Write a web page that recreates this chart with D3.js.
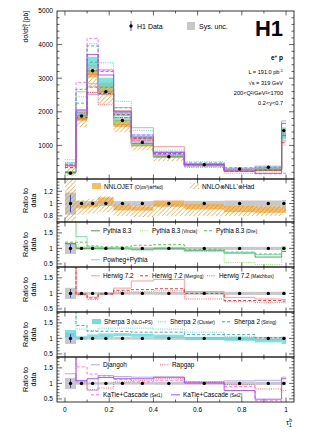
<!DOCTYPE html>
<html>
<head>
<meta charset="utf-8">
<script src="https://cdn.jsdelivr.net/npm/d3@7"></script>
<style>
  body { margin: 0; background: #fff; }
  text { font-family: "Liberation Sans", Arial, sans-serif; }
</style>
</head>
<body>
<div id="container"></div>
<script>
// bins in tau_1^b
const binEdges = [0, 0.05, 0.1, 0.15, 0.22, 0.3, 0.4, 0.54, 0.72, 0.86, 0.98, 1.0];

// H1 data [pb] and relative uncertainties
const h1Data  = [170, 1880, 3220, 2600, 1740, 1090, 664, 426, 298, 348, 1440];
const statRel = [0.14, 0.015, 0.01, 0.01, 0.01, 0.012, 0.015, 0.015, 0.02, 0.02, 0.02];
const sysRel  = [0.18, 0.045, 0.04, 0.04, 0.04, 0.04, 0.045, 0.045, 0.05, 0.05, 0.06];

// fixed order / resummed (ratio to data)
const nnlojetMid  = [null, 0.95, 0.97, 1.05, 0.93, 0.92, 1.0, 0.95, 0.91, 0.9, 0.9];
const nnlojetErr  = [null, 0.03, 0.03, 0.05, 0.04, 0.035, 0.05, 0.045, 0.05, 0.05, 0.05];
const nnloNllLow  = [0.5, 0.82, 0.84, 0.86, 0.8, 0.78, 0.8, 0.8, 0.8, 0.8, 0.85];
const nnloNllHigh = [2.0, 1.06, 1.08, 1.12, 1.0, 0.97, 1.0, 0.98, 0.96, 0.96, 0.95];

// MC generators (ratio to data)
const pythia83       = [1.15, 1.0, 1.0, 1.0, 1.0, 0.97, 1.0, 0.93, 0.85, 0.72, 0.9];
const pythiaVincia   = [3.4, 1.05, 1.0, 0.98, 0.97, 0.95, 0.97, 0.9, 0.55, 0.48, 0.95];
const pythiaDire     = [1.2, 1.2, 1.08, 1.05, 1.05, 1.1, 1.12, 0.97, 0.88, 0.82, 0.9];
const powhegPythia   = [2.8, 1.38, 1.05, 1.02, 1.0, 0.95, 0.98, 0.92, 0.87, 0.8, 1.05];

const herwig72       = [2.3, 1.0, 0.88, 1.0, 1.17, 1.4, 1.45, 1.06, 0.87, 0.82, 0.8];
const herwigMerging  = [2.0, 0.97, 0.85, 0.98, 1.1, 1.12, 1.15, 1.0, 0.77, 0.77, 0.75];
const herwigMatchbox = [2.6, 0.95, 0.8, 0.97, 1.05, 1.05, 1.08, 0.82, 0.73, 0.7, 0.7];

const sherpa3Mid     = [1.15, 1.02, 1.08, 1.1, 1.12, 1.1, 1.07, 1.0, 0.97, 0.92, 0.9];
const sherpa3Err     = [0.12, 0.05, 0.05, 0.06, 0.05, 0.05, 0.05, 0.05, 0.05, 0.05, 0.08];
const sherpa2Cluster = [2.9, 1.3, 1.25, 1.33, 1.33, 1.33, 1.3, 1.2, 1.05, 0.95, 0.95];
const sherpa2String  = [2.5, 1.42, 1.23, 1.23, 1.22, 1.2, 1.2, 1.12, 1.12, 1.02, 1.0];

const djangoh        = [1.31, 1.1, 0.78, 1.25, 1.22, 1.2, 1.2, 1.05, 1.08, 1.1, 1.2];
const rapgap         = [2.2, 1.05, 0.8, 0.85, 1.05, 1.1, 1.15, 1.05, 0.96, 0.82, 0.77];
const katieSet1      = [2.6, 1.53, 1.3, 1.24, 1.13, 1.05, 1.1, 1.03, 0.9, 0.44, 0.12];
const katieSet2      = [2.4, 1.08, 1.15, 1.19, 1.15, 1.15, 1.2, 1.01, 0.77, 0.49, 1.15];

const mainTicks  = [1000, 2000, 3000, 4000, 5000];
const ratioTicks = [0.5, 1, 1.5];
const nnloTicks  = [0.8, 1, 1.2];
const xTicks     = [0, 0.2, 0.4, 0.6, 0.8, 1];

const col = {
    sys: '#c8c8c8', stat: '#3a3acc',
    nnlojet: '#f7b04a', hatch: '#d09224',
    pythia: '#3d8f3d', vincia: '#88d860', dire: '#3fbf3f', powheg: '#6ddaa8',
    herwig: '#ff8a8a', merging: '#c82828', matchbox: '#ff4a4a',
    sherpa3: '#55dada', cluster: '#3fcaca', string: '#2f9a9a',
    djangoh: '#a898f6', rapgap: '#ff4a4a', katie1: '#ff5ef0', katie2: '#9a40ff'
};

// line styles of the MC curves
const mcCurves = [
    {vals: pythia83, color: col.pythia, dash: null, panel: 2},
    {vals: pythiaVincia, color: col.vincia, dash: '1,1.2', panel: 2},
    {vals: pythiaDire, color: col.dire, dash: '3,2', panel: 2},
    {vals: powhegPythia, color: col.powheg, dash: null, panel: 2},
    {vals: herwig72, color: col.herwig, dash: null, panel: 3},
    {vals: herwigMerging, color: col.merging, dash: '3,2', panel: 3},
    {vals: herwigMatchbox, color: col.matchbox, dash: '1,1.2', panel: 3},
    {vals: sherpa2Cluster, color: col.cluster, dash: '1,1.2', panel: 4},
    {vals: sherpa2String, color: col.string, dash: '3,2', panel: 4},
    {vals: djangoh, color: col.djangoh, dash: null, panel: 5},
    {vals: rapgap, color: col.rapgap, dash: '1,1.2', panel: 5},
    {vals: katieSet1, color: col.katie1, dash: '3,2', panel: 5},
    {vals: katieSet2, color: col.katie2, dash: null, panel: 5}
];

const width = 311, height = 448;
const left = 57, right = 294;

const svg = d3.select('#container').append('svg')
    .attr('width', width).attr('height', height);

const defs = svg.append('defs');
defs.append('pattern')
    .attr('id', 'hatch').attr('patternUnits', 'userSpaceOnUse')
    .attr('width', 4.5).attr('height', 4.5)
    .append('path')
    .attr('d', 'M-1,5.5 L5.5,-1 M-1,1 L1,-1 M3.5,5.5 L5.5,3.5')
    .attr('stroke', col.hatch).attr('stroke-width', 0.75);

const x = d3.scaleLinear().domain([-0.036, 1.036]).range([left, right]);

const panels = [
    {top: 11,  bottom: 179, domain: [0, 5000], ticks: mainTicks, minor: 200, fmt: d3.format('d')},
    {top: 179, bottom: 222, domain: [0.7, 1.4], ticks: nnloTicks, minor: 0.05, fmt: d3.format('')},
    {top: 222, bottom: 267, domain: [0.4, 1.85], ticks: ratioTicks, minor: 0.1, fmt: d3.format('')},
    {top: 267, bottom: 312, domain: [0.4, 1.85], ticks: ratioTicks, minor: 0.1, fmt: d3.format('')},
    {top: 312, bottom: 357, domain: [0.4, 1.85], ticks: ratioTicks, minor: 0.1, fmt: d3.format('')},
    {top: 357, bottom: 402, domain: [0.4, 1.85], ticks: ratioTicks, minor: 0.1, fmt: d3.format('')}
];
panels.forEach((p, i) => {
    p.y = d3.scaleLinear().domain(p.domain).range([p.bottom, p.top]);
    defs.append('clipPath').attr('id', 'clip' + i)
        .append('rect').attr('x', left).attr('y', p.top)
        .attr('width', right - left).attr('height', p.bottom - p.top);
    p.g = svg.append('g').attr('clip-path', 'url(#clip' + i + ')');
});

// in main panel the ratio is turned back into a cross section
function scaleVal(i, r, k) {
    return i === 0 ? r * h1Data[k] : r;
}

function band(p, i, lo, hi, fill, opacity) {
    binEdges.slice(0, -1).forEach((e, k) => {
        if (lo[k] == null) return;
        const y1 = p.y(scaleVal(i, hi[k], k));
        const y0 = p.y(scaleVal(i, lo[k], k));
        p.g.append('rect')
            .attr('x', x(e)).attr('width', x(binEdges[k + 1]) - x(e))
            .attr('y', y1).attr('height', Math.max(0.5, y0 - y1))
            .attr('fill', fill).attr('fill-opacity', opacity);
    });
}

function stepLine(p, i, vals, color, dash, sw) {
    const pts = [];
    vals.forEach((v, k) => {
        if (v == null) return;
        pts.push([binEdges[k], scaleVal(i, v, k)]);
        pts.push([binEdges[k + 1], scaleVal(i, v, k)]);
    });
    p.g.append('path')
        .attr('d', d3.line().x(d => x(d[0])).y(d => p.y(d[1]))(pts))
        .attr('fill', 'none').attr('stroke', color)
        .attr('stroke-width', sw || 0.8)
        .attr('stroke-dasharray', dash);
}

const sysLo = sysRel.map(s => 1 - s), sysHi = sysRel.map(s => 1 + s);
const njLo = nnlojetMid.map((m, k) => m == null ? null : m - nnlojetErr[k]);
const njHi = nnlojetMid.map((m, k) => m == null ? null : m + nnlojetErr[k]);
const shLo = sherpa3Mid.map((m, k) => m - sherpa3Err[k]);
const shHi = sherpa3Mid.map((m, k) => m + sherpa3Err[k]);

panels.forEach((p, i) => {
    band(p, i, sysLo, sysHi, col.sys, 1);
    if (i === 0 || i === 1) {
        band(p, i, njLo, njHi, col.nnlojet, 0.85);
        band(p, i, nnloNllLow, nnloNllHigh, 'url(#hatch)', 1);
        if (i === 0) stepLine(p, i, nnlojetMid, '#e08a10', null, 0.6);
    }
    if (i === 0 || i === 4) {
        band(p, i, shLo, shHi, col.sherpa3, 0.75);
    }
    mcCurves.forEach(c => {
        if (i === 0 || i === c.panel) stepLine(p, i, c.vals, c.color, c.dash, 0.85);
    });

    // data points
    binEdges.slice(0, -1).forEach((e, k) => {
        const cx = x((e + binEdges[k + 1]) / 2);
        const v = i === 0 ? h1Data[k] : 1;
        p.g.append('line')
            .attr('x1', cx).attr('x2', cx)
            .attr('y1', p.y(v * (1 - statRel[k]))).attr('y2', p.y(v * (1 + statRel[k])))
            .attr('stroke', col.stat).attr('stroke-width', 0.9);
        p.g.append('circle').attr('cx', cx).attr('cy', p.y(v)).attr('r', 1.7).attr('fill', '#000');
    });
});

// frames, ticks, labels
const axes = svg.append('g');
panels.forEach((p, i) => {
    axes.append('rect').attr('x', left).attr('y', p.top)
        .attr('width', right - left).attr('height', p.bottom - p.top)
        .attr('fill', 'none').attr('stroke', '#000').attr('stroke-width', 0.8);

    const minorY = d3.range(Math.ceil(p.domain[0] / p.minor) * p.minor, p.domain[1] + 1e-9, p.minor);
    minorY.forEach(v => {
        const yy = p.y(v);
        if (yy < p.top + 0.5 || yy > p.bottom - 0.5) return;
        const major = p.ticks.some(t => Math.abs(t - v) < 1e-6);
        const len = major ? 5 : 2.5;
        axes.append('line').attr('x1', left).attr('x2', left + len).attr('y1', yy).attr('y2', yy)
            .attr('stroke', '#000').attr('stroke-width', 0.6);
        axes.append('line').attr('x1', right).attr('x2', right - len).attr('y1', yy).attr('y2', yy)
            .attr('stroke', '#000').attr('stroke-width', 0.6);
    });
    p.ticks.forEach(t => {
        axes.append('text').attr('x', 53).attr('y', p.y(t) + 2.3)
            .attr('text-anchor', 'end').attr('font-size', 6.6).text(p.fmt(t));
    });

    d3.range(0, 1.0001, 0.1).forEach(v => {
        const major = Math.abs(Math.round(v * 5) - v * 5) < 1e-6;
        const len = major ? 4.5 : 2.5;
        axes.append('line').attr('x1', x(v)).attr('x2', x(v)).attr('y1', p.bottom).attr('y2', p.bottom - len)
            .attr('stroke', '#000').attr('stroke-width', 0.6);
        axes.append('line').attr('x1', x(v)).attr('x2', x(v)).attr('y1', p.top).attr('y2', p.top + len)
            .attr('stroke', '#000').attr('stroke-width', 0.6);
    });

    if (i > 0) {
        const cy = (p.top + p.bottom) / 2;
        const t = axes.append('text').attr('transform', `translate(28,${cy}) rotate(-90)`)
            .attr('text-anchor', 'middle').attr('font-size', 7.2);
        t.append('tspan').attr('x', 0).attr('dy', 0).text('Ratio to');
        t.append('tspan').attr('x', 0).attr('dy', 7.6).text('data');
    }
});

xTicks.forEach(t => {
    axes.append('text').attr('x', x(t)).attr('y', 412)
        .attr('text-anchor', 'middle').attr('font-size', 6.6).text(d3.format('')(t));
});

// axis titles
const yt = axes.append('text').attr('transform', 'translate(28,11) rotate(-90)')
    .attr('text-anchor', 'end').attr('font-size', 6.6);
yt.append('tspan').text('dσ/dτ');
yt.append('tspan').attr('font-size', 4.6).attr('dy', 1.8).text('1');
yt.append('tspan').attr('font-size', 4.6).attr('dy', -4.2).attr('dx', -2.4).text('b');
yt.append('tspan').attr('dy', 2.4).text(' [pb]');

const xt = axes.append('text').attr('x', 286).attr('y', 425).attr('font-size', 7.5);
xt.append('tspan').text('τ');
xt.append('tspan').attr('font-size', 5).attr('dy', 2).text('1');
xt.append('tspan').attr('font-size', 5).attr('dy', -5).attr('dx', -2.6).text('b');

// main legend
const leg = svg.append('g');
leg.append('line').attr('x1', 131).attr('x2', 131).attr('y1', 21).attr('y2', 31)
    .attr('stroke', col.stat).attr('stroke-width', 0.9);
leg.append('circle').attr('cx', 131).attr('cy', 26).attr('r', 1.7).attr('fill', '#000');
leg.append('text').attr('x', 137).attr('y', 28.5).attr('font-size', 7).text('H1 Data');
leg.append('rect').attr('x', 187).attr('y', 22).attr('width', 8).attr('height', 8).attr('fill', col.sys);
leg.append('text').attr('x', 199).attr('y', 28.5).attr('font-size', 7).text('Sys. unc.');
leg.append('text').attr('x', 283).attr('y', 36).attr('text-anchor', 'end')
    .attr('font-size', 22).attr('font-weight', 'bold').text('H1');

const ep = leg.append('text').attr('x', 283).attr('y', 60).attr('text-anchor', 'end')
    .attr('font-size', 6.5).attr('font-weight', 'bold');
ep.append('tspan').text('e');
ep.append('tspan').attr('font-size', 4.5).attr('dy', -2.5).text('+');
ep.append('tspan').attr('dy', 2.5).text(' p');

const info = [
    ['L = 191.0 pb', '-1', 74],
    ['√s = 319 GeV', null, 85],
    ['200<Q²/GeV²<1700', null, 95],
    ['0.2<y<0.7', null, 105]
];
info.forEach(d => {
    const t = leg.append('text').attr('x', 283).attr('y', d[2]).attr('text-anchor', 'end').attr('font-size', 5.6);
    t.append('tspan').text(d[0]);
    if (d[1]) t.append('tspan').attr('font-size', 4).attr('dy', -2.3).text(d[1]);
});

function legText(xx, yy, main, small) {
    const t = leg.append('text').attr('x', xx).attr('y', yy).attr('font-size', 6.4);
    t.append('tspan').text(main);
    if (small) t.append('tspan').attr('font-size', 4.6).text(' ' + small);
}
function legLine(x1, yy, color, dash, main, small) {
    leg.append('line').attr('x1', x1).attr('x2', x1 + 9).attr('y1', yy - 2.2).attr('y2', yy - 2.2)
        .attr('stroke', color).attr('stroke-width', 0.9).attr('stroke-dasharray', dash);
    legText(x1 + 12, yy, main, small);
}

// NNLO panel legend
leg.append('rect').attr('x', 92).attr('y', 183).attr('width', 9).attr('height', 6)
    .attr('fill', col.nnlojet).attr('fill-opacity', 0.85);
legText(104, 189, 'NNLOJET', '(O(αs³)⊗Had)');
leg.append('rect').attr('x', 190).attr('y', 183).attr('width', 9).attr('height', 6).attr('fill', 'url(#hatch)');
legText(202, 189, 'NNLO⊗NLL\'⊗Had');

legLine(91, 233, col.pythia, null, 'Pythia 8.3');
legLine(140, 233, col.vincia, '1,1.2', 'Pythia 8.3', '(Vincia)');
legLine(204, 233, col.dire, '3,2', 'Pythia 8.3', '(Dire)');
legLine(91, 262, col.powheg, null, 'Powheg+Pythia');

legLine(91, 278, col.herwig, null, 'Herwig 7.2');
legLine(140, 278, col.merging, '3,2', 'Herwig 7.2', '(Merging)');
legLine(207, 278, col.matchbox, '1,1.2', 'Herwig 7.2', '(Matchbox)');

leg.append('rect').attr('x', 92).attr('y', 319).attr('width', 9).attr('height', 5)
    .attr('fill', col.sherpa3).attr('fill-opacity', 0.85);
legText(104, 324, 'Sherpa 3', '(NLO+PS)');
legLine(158, 324, col.cluster, '1,1.2', 'Sherpa 2', '(Cluster)');
legLine(222, 324, col.string, '3,2', 'Sherpa 2', '(String)');

legLine(91, 367, col.djangoh, null, 'Djangoh');
legLine(160, 367, col.rapgap, '1,1.2', 'Rapgap');
legLine(91, 397, col.katie1, '3,2', 'KaTie+Cascade', '(Set1)');
legLine(171, 397, col.katie2, null, 'KaTie+Cascade', '(Set2)');
</script>
</body>
</html>
